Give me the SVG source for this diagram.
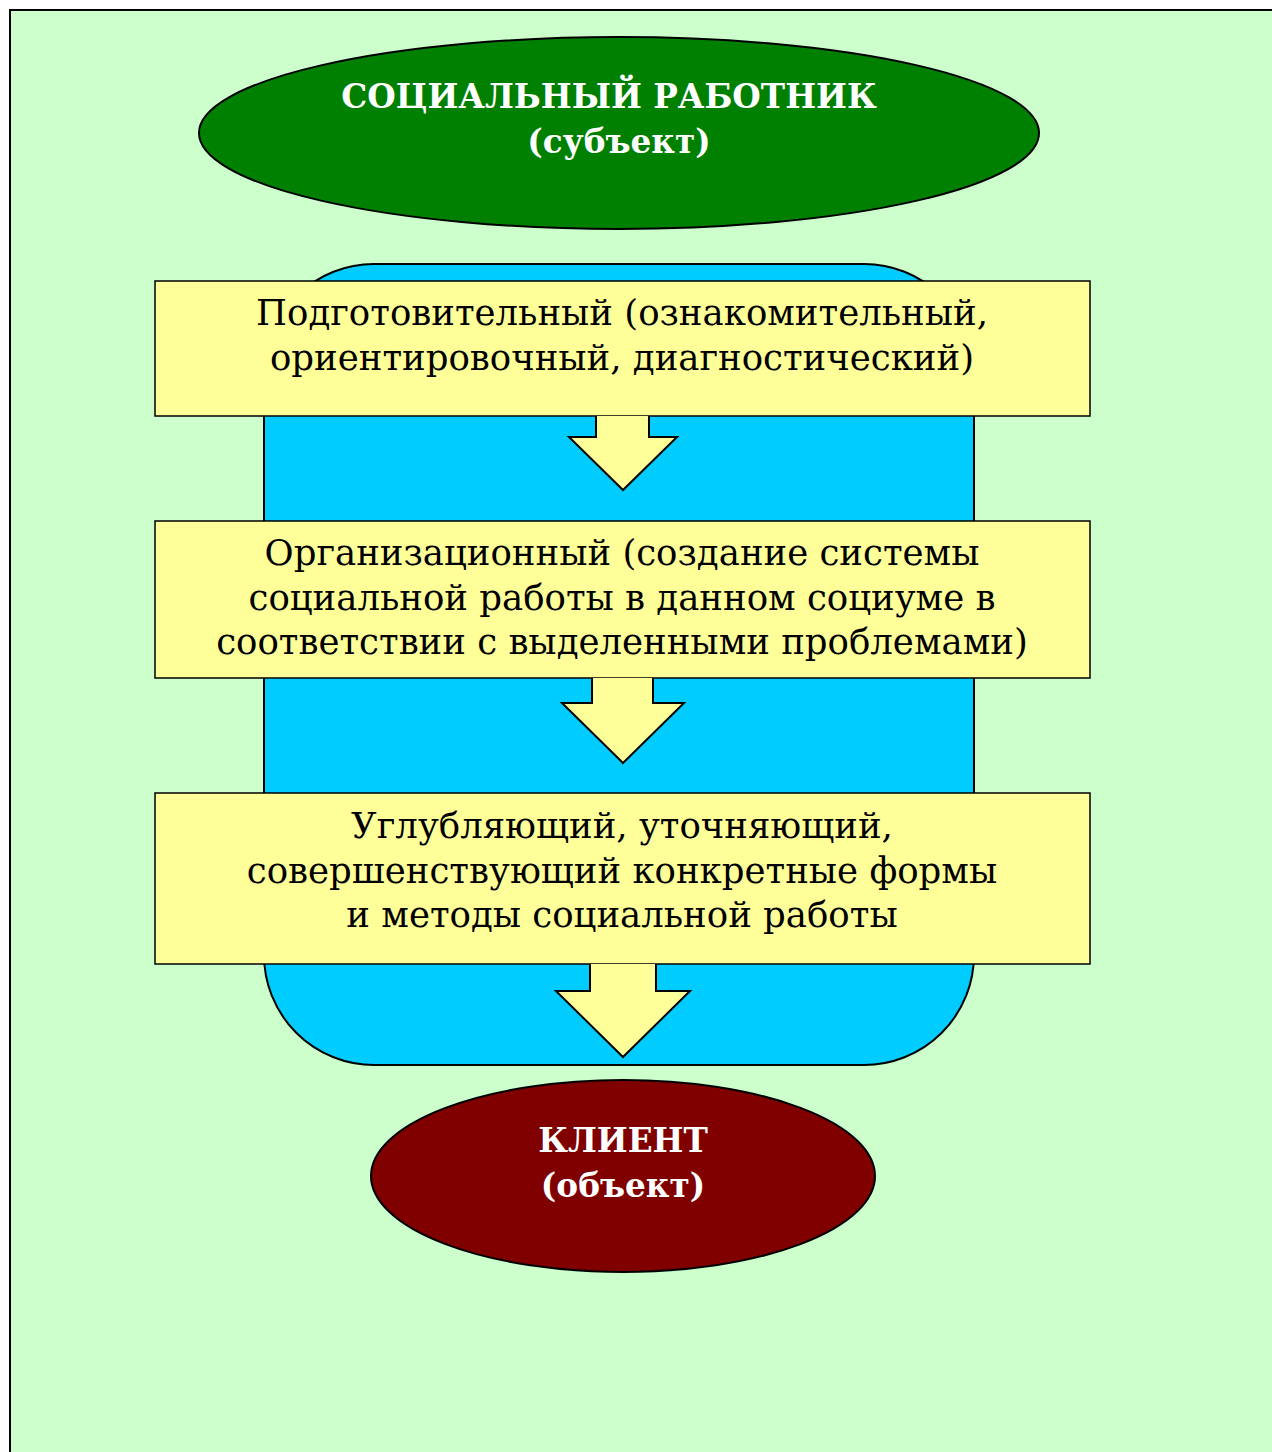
<svg xmlns="http://www.w3.org/2000/svg" width="1272" height="1452" viewBox="0 0 1272 1452">
<style>
.bg{fill:#CCFFCC;stroke:#000;stroke-width:2}
.sh{stroke:#000;stroke-width:2}
.box{fill:#FFFF99;stroke:#000;stroke-width:1.5}
.arr{fill:#FFFF99;stroke:#000;stroke-width:2;stroke-linejoin:miter}
.t{font-family:"DejaVu Serif","Liberation Serif",serif;font-size:35.5px;fill:#000;text-anchor:middle}
.h{font-family:"DejaVu Serif","Liberation Serif",serif;font-size:32.7px;font-weight:bold;fill:#fff;text-anchor:middle}
</style>
<rect class="bg" x="10" y="10" width="1280" height="1460"/>
<g id="subject">
<ellipse class="sh" cx="619" cy="133" rx="420" ry="96" fill="#008000"/>
<text class="h" x="609" y="108">СОЦИАЛЬНЫЙ РАБОТНИК</text>
<text class="h" x="619" y="153">(субъект)</text>
</g>
<g id="container">
<rect class="sh" x="264" y="264" width="710" height="801" rx="110" ry="110" fill="#00CCFF"/>
</g>
<g id="stage1">
<rect class="box" x="155" y="281" width="935" height="135"/>
<text class="t" x="622" y="325">Подготовительный (ознакомительный,</text>
<text class="t" x="622" y="370">ориентировочный, диагностический)</text>
</g>
<g id="stage2">
<rect class="box" x="155" y="521" width="935" height="157"/>
<text class="t" x="622" y="565">Организационный (создание системы</text>
<text class="t" x="622" y="610">социальной работы в данном социуме в</text>
<text class="t" x="622" y="654">соответствии с выделенными проблемами)</text>
</g>
<g id="stage3">
<rect class="box" x="155" y="793" width="935" height="171"/>
<text class="t" x="622" y="838">Углубляющий, уточняющий,</text>
<text class="t" x="622" y="883">совершенствующий конкретные формы</text>
<text class="t" x="622" y="927">и методы социальной работы</text>
</g>
<g id="connectors">
<path class="arr" d="M596,416 V437 H569 L623,490 L677,437 H649 V416"/>
<path class="arr" d="M592,678 V703 H562 L623,763 L684,703 H653 V678"/>
<path class="arr" d="M590,964 V991 H556 L623,1057 L690,991 H656 V964"/>
</g>
<g id="client">
<ellipse class="sh" cx="623" cy="1176" rx="252" ry="96" fill="#800000"/>
<text class="h" x="623" y="1152">КЛИЕНТ</text>
<text class="h" x="623" y="1197">(объект)</text>
</g>
</svg>
